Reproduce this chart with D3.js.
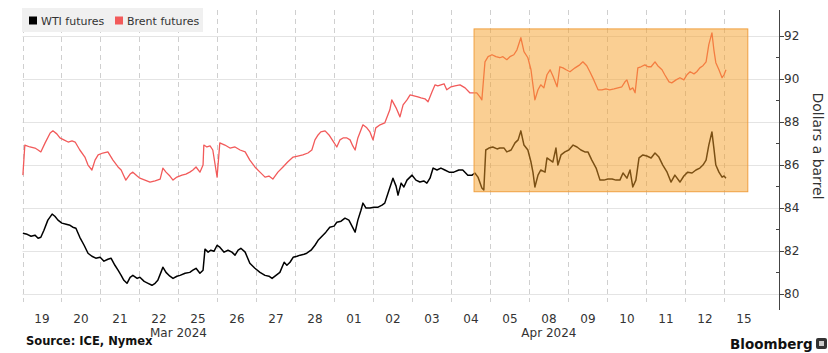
<!DOCTYPE html>
<html><head><meta charset="utf-8">
<script src="https://cdn.jsdelivr.net/npm/d3@7"></script>
<style>
html,body{margin:0;padding:0;background:#fff;}
svg{display:block;font-family:"DejaVu Sans",Verdana,sans-serif;}
</style></head>
<body><svg id="c" width="828" height="353"></svg>
<script>
// Trading-day labels (x axis) and the month each belongs to
const dayLabels = ["19","20","21","22","25","26","27","28","01","02","03","04","05","08","09","10","11","12","15"];
const dayMonths = ["Mar 2024","Mar 2024","Mar 2024","Mar 2024","Mar 2024","Mar 2024","Mar 2024","Mar 2024",
  "Apr 2024","Apr 2024","Apr 2024","Apr 2024","Apr 2024","Apr 2024","Apr 2024","Apr 2024","Apr 2024","Apr 2024","Apr 2024"];
const yTicks = [80,82,84,86,88,90,92];
const yMinor = [81,83,85,87,89,91];
const seriesNames = ["WTI futures","Brent futures"];
// [trading-day position, price in $/bbl]
const wti = [[0.01,82.82],[0.12,82.77],[0.22,82.68],[0.32,82.73],[0.40,82.59],[0.47,82.63],[0.55,82.96],[0.65,83.43],[0.76,83.71],[0.83,83.61],[0.91,83.43],[1.01,83.29],[1.12,83.24],[1.22,83.19],[1.29,83.10],[1.37,83.05],[1.47,82.63],[1.58,82.26],[1.68,81.89],[1.78,81.75],[1.88,81.66],[1.99,81.70],[2.09,81.52],[2.19,81.61],[2.27,81.66],[2.37,81.33],[2.45,81.10],[2.53,80.86],[2.60,80.63],[2.68,80.49],[2.76,80.77],[2.83,80.86],[2.94,80.72],[3.01,80.77],[3.12,80.58],[3.22,80.49],[3.32,80.40],[3.40,80.49],[3.47,80.63],[3.55,81.00],[3.60,81.24],[3.68,81.00],[3.78,80.82],[3.86,80.72],[3.96,80.82],[4.04,80.86],[4.17,80.96],[4.29,81.00],[4.37,81.10],[4.45,81.19],[4.55,80.96],[4.63,81.10],[4.68,82.08],[4.76,81.94],[4.83,82.03],[4.91,81.98],[4.99,82.26],[5.06,82.17],[5.17,81.94],[5.27,82.03],[5.37,81.94],[5.45,81.80],[5.53,82.03],[5.60,82.12],[5.71,81.94],[5.83,81.42],[5.96,81.19],[6.09,81.00],[6.22,80.86],[6.32,80.82],[6.40,80.72],[6.50,80.86],[6.60,81.00],[6.71,81.47],[6.78,81.33],[6.86,81.47],[6.94,81.70],[7.04,81.75],[7.12,81.80],[7.22,81.84],[7.29,81.89],[7.40,82.03],[7.50,82.26],[7.58,82.49],[7.68,82.68],[7.78,82.87],[7.88,83.10],[7.99,83.15],[8.06,83.33],[8.17,83.38],[8.27,83.52],[8.37,83.43],[8.45,83.15],[8.53,82.87],[8.60,83.43],[8.68,83.89],[8.73,84.22],[8.81,83.99],[8.91,83.99],[9.01,84.03],[9.12,84.03],[9.22,84.13],[9.29,84.22],[9.40,84.83],[9.50,85.38],[9.58,85.01],[9.63,84.59],[9.71,85.15],[9.78,84.97],[9.86,85.29],[9.99,85.52],[10.09,85.29],[10.19,85.20],[10.29,85.25],[10.37,85.15],[10.45,85.38],[10.53,85.85],[10.63,85.76],[10.73,85.85],[10.83,85.76],[10.94,85.66],[11.06,85.66],[11.19,85.76],[11.29,85.76],[11.42,85.52],[11.53,85.52],[11.60,85.62],[11.68,85.43],[11.78,84.92],[11.83,84.83],[11.88,86.69],[11.96,86.78],[12.06,86.83],[12.17,86.74],[12.24,86.78],[12.35,86.78],[12.42,86.60],[12.53,86.69],[12.63,87.02],[12.71,87.16],[12.78,87.58],[12.86,86.92],[12.96,86.69],[13.04,86.13],[13.09,85.66],[13.14,84.97],[13.22,85.52],[13.29,85.76],[13.40,85.66],[13.45,86.32],[13.53,86.22],[13.60,86.13],[13.68,86.78],[13.73,85.99],[13.81,86.46],[13.91,86.60],[14.01,86.69],[14.12,86.92],[14.22,86.83],[14.32,86.69],[14.42,86.60],[14.50,86.60],[14.60,86.22],[14.71,85.85],[14.81,85.29],[14.91,85.29],[15.01,85.34],[15.12,85.34],[15.22,85.29],[15.32,85.29],[15.40,85.62],[15.50,85.38],[15.58,85.76],[15.65,84.97],[15.73,85.29],[15.81,86.32],[15.91,86.46],[16.01,86.41],[16.12,86.32],[16.22,86.55],[16.32,86.36],[16.42,85.99],[16.53,85.66],[16.63,85.20],[16.73,85.52],[16.86,85.20],[16.96,85.48],[17.06,85.66],[17.17,85.62],[17.27,85.76],[17.37,85.85],[17.45,85.99],[17.53,86.22],[17.60,86.92],[17.68,87.53],[17.73,86.78],[17.78,85.99],[17.86,85.66],[17.94,85.43],[17.99,85.48],[18.04,85.38]];
const brent = [[0.01,85.52],[0.06,86.92],[0.19,86.83],[0.32,86.78],[0.40,86.69],[0.47,86.60],[0.58,87.02],[0.71,87.48],[0.78,87.58],[0.88,87.44],[0.96,87.25],[1.06,87.16],[1.17,87.06],[1.27,87.11],[1.35,87.06],[1.47,86.69],[1.60,86.36],[1.68,85.99],[1.78,85.76],[1.86,86.22],[1.94,86.46],[2.06,86.55],[2.19,86.60],[2.32,86.22],[2.45,85.90],[2.53,85.76],[2.60,85.48],[2.65,85.29],[2.76,85.57],[2.83,85.66],[2.94,85.48],[3.01,85.38],[3.14,85.29],[3.27,85.20],[3.40,85.25],[3.53,85.34],[3.60,85.85],[3.68,85.66],[3.78,85.48],[3.86,85.29],[3.96,85.43],[4.09,85.52],[4.19,85.57],[4.29,85.66],[4.37,85.76],[4.45,85.90],[4.55,85.66],[4.63,85.99],[4.65,86.92],[4.73,86.83],[4.81,86.88],[4.88,86.69],[4.99,85.43],[5.06,87.02],[5.19,86.92],[5.32,86.78],[5.45,86.83],[5.58,86.69],[5.71,86.60],[5.83,86.22],[5.96,85.90],[6.09,85.66],[6.22,85.43],[6.32,85.48],[6.42,85.34],[6.55,85.66],[6.68,85.90],[6.80,86.13],[6.94,86.36],[7.06,86.41],[7.19,86.46],[7.32,86.55],[7.42,86.69],[7.50,87.16],[7.58,87.39],[7.65,87.53],[7.76,87.58],[7.86,87.39],[7.96,87.11],[8.06,86.83],[8.14,87.16],[8.22,87.25],[8.32,87.25],[8.40,87.16],[8.47,86.88],[8.53,86.69],[8.60,87.25],[8.73,87.86],[8.83,87.72],[8.91,87.53],[8.99,87.16],[9.06,87.72],[9.17,87.86],[9.29,87.95],[9.42,88.56],[9.47,89.02],[9.58,88.65],[9.68,88.23],[9.76,88.79],[9.86,89.02],[9.94,89.25],[10.04,89.21],[10.14,89.16],[10.22,89.11],[10.32,89.07],[10.40,88.93],[10.50,89.39],[10.58,89.72],[10.65,89.67],[10.73,89.72],[10.81,89.77],[10.88,89.49],[10.99,89.63],[11.09,89.67],[11.22,89.72],[11.35,89.58],[11.47,89.35],[11.58,89.35],[11.65,89.35],[11.73,89.16],[11.78,89.02],[11.86,90.79],[11.94,91.03],[12.04,91.12],[12.14,91.03],[12.24,90.98],[12.32,91.03],[12.42,90.89],[12.50,91.03],[12.60,91.12],[12.68,91.35],[12.78,91.91],[12.86,91.26],[12.96,90.98],[13.04,90.42],[13.09,89.72],[13.14,89.02],[13.22,89.49],[13.29,89.72],[13.37,89.58],[13.45,90.19],[13.53,90.42],[13.60,90.14],[13.71,89.63],[13.78,90.56],[13.86,90.51],[13.94,90.42],[14.04,90.33],[14.17,90.51],[14.29,90.65],[14.37,90.79],[14.47,90.61],[14.55,90.33],[14.65,89.95],[14.76,89.49],[14.86,89.49],[14.96,89.53],[15.06,89.49],[15.17,89.53],[15.27,89.58],[15.37,89.63],[15.45,89.86],[15.50,89.95],[15.58,89.49],[15.65,89.58],[15.71,89.35],[15.78,90.51],[15.86,90.56],[15.96,90.65],[16.04,90.56],[16.12,90.56],[16.22,90.79],[16.29,90.61],[16.40,90.42],[16.47,90.19],[16.58,89.86],[16.65,89.81],[16.76,89.95],[16.86,90.05],[16.96,89.95],[17.04,90.19],[17.12,90.33],[17.22,90.23],[17.29,90.33],[17.37,90.51],[17.45,90.61],[17.53,90.79],[17.60,91.59],[17.68,92.14],[17.73,91.35],[17.78,90.75],[17.86,90.42],[17.94,90.05],[17.99,90.19],[18.04,90.42]];
// highlighted region: [day from, day to], [price low, price high]
const highlightDays = [11.58, 18.6];
const highlightPrices = [84.75, 92.32];

const svg = d3.select("#c");
const x = d3.scaleLinear().domain([0, 19.4]).range([22.5, 779]);
const y = d3.scaleLinear().domain([79.25, 93.2]).range([310, 10]);
const plotTop = 10, plotBottom = 302;

// horizontal gridlines
svg.append("g").selectAll("line").data(yTicks).join("line")
  .attr("x1", x(0)).attr("x2", x.range()[1])
  .attr("y1", d => Math.round(y(d)) + 0.5).attr("y2", d => Math.round(y(d)) + 0.5)
  .attr("stroke", "#e4e4e4").attr("stroke-width", 1);

// vertical dashed day gridlines
svg.append("g").selectAll("line").data(d3.range(dayLabels.length)).join("line")
  .attr("x1", d => Math.round(x(d)) + 0.5).attr("x2", d => Math.round(x(d)) + 0.5)
  .attr("y1", plotTop).attr("y2", plotBottom)
  .attr("stroke", "#cfcfcf").attr("stroke-width", 1).attr("stroke-dasharray", "5,4");

// x labels
svg.append("g").selectAll("text").data(dayLabels).join("text")
  .attr("x", (d, i) => x(i + 0.5)).attr("y", 323)
  .attr("text-anchor", "middle").attr("font-size", 12).attr("fill", "#333").text(d => d);

const months = Array.from(d3.group(dayLabels.map((d, i) => ({i, m: dayMonths[i]})), d => d.m),
  ([m, arr]) => ({m, c: (d3.min(arr, a => a.i) + d3.max(arr, a => a.i) + 1) / 2}));
svg.append("g").selectAll("text").data(months).join("text")
  .attr("x", d => x(d.c)).attr("y", 337)
  .attr("text-anchor", "middle").attr("font-size", 12).attr("fill", "#333").text(d => d.m);

// lines
const line = d3.line().x(d => x(d[0])).y(d => y(d[1]));
svg.append("path").datum(brent).attr("d", line).attr("fill", "none")
  .attr("stroke", "#f25a5a").attr("stroke-width", 1.3).attr("stroke-linejoin", "round");
svg.append("path").datum(wti).attr("d", line).attr("fill", "none")
  .attr("stroke", "#000").attr("stroke-width", 1.5).attr("stroke-linejoin", "round");

// highlight overlay
svg.append("rect")
  .attr("x", x(highlightDays[0])).attr("y", y(highlightPrices[1]))
  .attr("width", x(highlightDays[1]) - x(highlightDays[0]))
  .attr("height", y(highlightPrices[0]) - y(highlightPrices[1]))
  .attr("fill", "#f5a028").attr("fill-opacity", 0.5)
  .attr("stroke", "#f0a040").attr("stroke-width", 1);

// right axis
const axis = svg.append("g").attr("transform", `translate(${x.range()[1]},0)`);
axis.append("line").attr("x1", 0.5).attr("x2", 0.5).attr("y1", y.range()[1]).attr("y2", y.range()[0])
  .attr("stroke", "#444").attr("stroke-width", 1);
axis.selectAll("line.maj").data(yTicks).join("line").attr("class", "maj")
  .attr("x1", 0.5).attr("x2", 5).attr("y1", d => Math.round(y(d)) + 0.5).attr("y2", d => Math.round(y(d)) + 0.5)
  .attr("stroke", "#444");
axis.selectAll("line.min").data(yMinor).join("line").attr("class", "min")
  .attr("x1", -3).attr("x2", 0.5).attr("y1", d => Math.round(y(d)) + 0.5).attr("y2", d => Math.round(y(d)) + 0.5)
  .attr("stroke", "#444");
axis.selectAll("text").data(yTicks).join("text")
  .attr("x", 5).attr("y", d => y(d)).attr("dy", "0.35em")
  .attr("font-size", 12).attr("fill", "#333").text(d => d);

svg.append("text").attr("transform", "translate(818,146) rotate(90)")
  .attr("text-anchor", "middle").attr("dy", "0.35em").attr("font-size", 14).attr("fill", "#333")
  .text("Dollars a barrel");

// legend
const leg = svg.append("g");
leg.append("rect").attr("x", 22).attr("y", 8).attr("width", 181).attr("height", 24).attr("fill", "#f0f0f0");
const legX = [29, 115], legCol = ["#000", "#f25a5a"];
seriesNames.forEach((n, i) => {
  leg.append("rect").attr("x", legX[i]).attr("y", 16.5).attr("width", 8).attr("height", 8).attr("fill", legCol[i]);
  leg.append("text").attr("x", legX[i] + 12).attr("y", 25).attr("font-size", 11).attr("fill", "#333").text(n);
});

// footer
svg.append("text").attr("x", 26).attr("y", 345).attr("font-size", 11.5).attr("font-weight", "bold")
  .attr("fill", "#111").text("Source: ICE, Nymex");
svg.append("text").attr("x", 730).attr("y", 349).attr("font-size", 13.5).attr("font-weight", "bold")
  .attr("fill", "#111").text("Bloomberg");
svg.append("rect").attr("x", 816).attr("y", 338).attr("width", 11).attr("height", 11).attr("rx", 2).attr("fill", "#333");
svg.append("rect").attr("x", 819).attr("y", 341).attr("width", 5).attr("height", 5).attr("fill", "#ccc");
</script></body></html>
